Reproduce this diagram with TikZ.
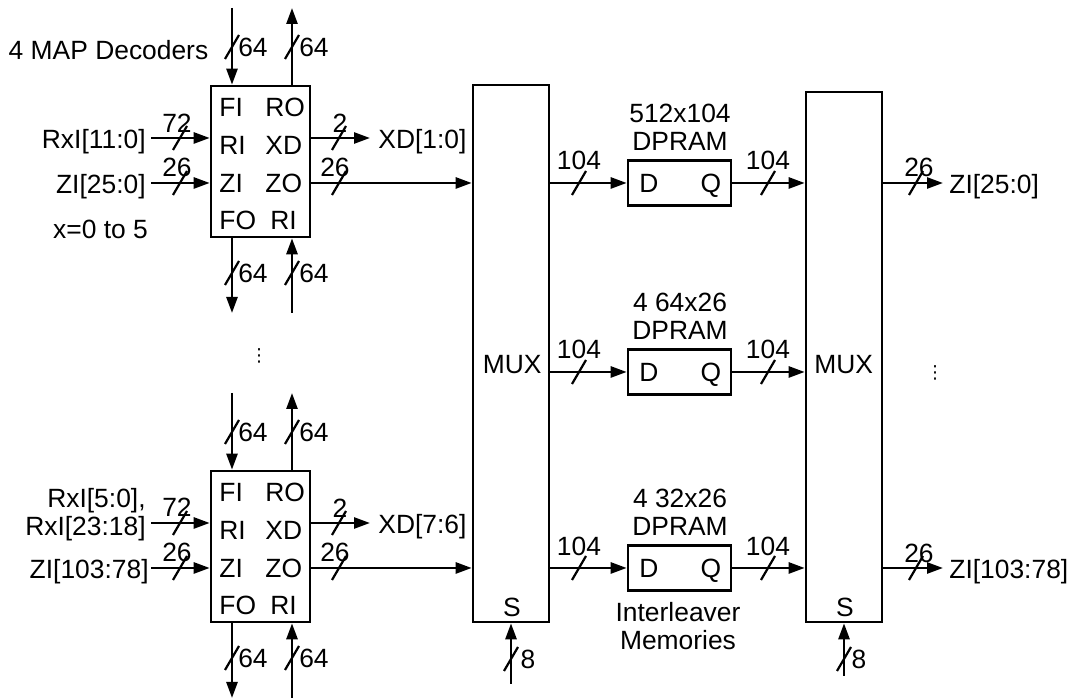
\documentclass[tikz,border=0pt]{standalone}
\usepackage{fontspec}
\setmainfont{Liberation Sans}
\newfontfamily\dotsfont{DejaVu Sans}
\usetikzlibrary{arrows.meta}

% bus width mark: slash at #1, label node #2 at #3 reading #4
\newcommand{\buswidth}[4]{%
  \draw[wire, line width=1.1pt] (#1) ++(-7,12) -- ++(14,-24);
  \node[lbl] (#2) at (#3) {#4};}

\begin{document}
\begin{tikzpicture}[x=0.5pt, y=-0.5pt,
    wire/.style={line width=1.3pt},
    arr/.style={wire, -{Triangle[length=8pt, width=5.5pt]}},
    blk/.style={draw, line width=1.3pt, inner sep=0pt},
    dec/.style={blk, minimum width=49.5pt, minimum height=75.5pt},
    mux/.style={blk, minimum width=38pt},
    ram/.style={blk, minimum width=51.5pt, minimum height=22.5pt},
    txt/.style={font=\fontsize{13.2}{14}\selectfont, inner sep=0pt},
    lbl/.style={txt, text height=9.45pt, text depth=0pt},
    pin/.style={lbl, anchor=west}
]
\path[fill=white, use as bounding box] (0,0) rectangle (1073,699);

% blocks
\node[dec] (dec1) at (260.5,161.5) {};
\node[dec] (dec2) at (260.5,546.5) {};
\node[mux, minimum height=268.5pt] (mux1) at (511,353.5) {};
\node[mux, minimum height=265pt] (mux2) at (844,357) {};
\node[ram] (ram1) at (679.5,183) {};
\node[ram] (ram2) at (679.5,372) {};
\node[ram] (ram3) at (679.5,568) {};

% decoder pins
\node[pin] (p1a) at (219,107) {FI};
\node[pin] (p1b) at (265,107) {RO};
\node[pin] (p1c) at (219,145) {RI};
\node[pin] (p1d) at (265,145) {XD};
\node[pin] (p1e) at (219,183) {ZI};
\node[pin] (p1f) at (265,183) {ZO};
\node[pin] (p1g) at (219,220) {FO};
\node[pin] (p1h) at (270,220) {RI};

\node[pin] (p2a) at (219,492) {FI};
\node[pin] (p2b) at (265,492) {RO};
\node[pin] (p2c) at (219,530) {RI};
\node[pin] (p2d) at (265,530) {XD};
\node[pin] (p2e) at (219,568) {ZI};
\node[pin] (p2f) at (265,568) {ZO};
\node[pin] (p2g) at (219,605) {FO};
\node[pin] (p2h) at (270,605) {RI};

\node[lbl] (title) at (108.5,50) {4 MAP Decoders};
\node[lbl] (range) at (100.5,229) {x=0 to 5};

% decoder 1 buses
\coordinate (d1fi) at (232,8);
\coordinate (d1ro) at (292,8);
\coordinate (d1fo) at (232,313);
\coordinate (d1ri) at (292,313);
\draw[arr] (d1fi) -- (d1fi |- dec1.north);
\draw[arr] (d1ro |- dec1.north) -- (d1ro);
\draw[arr] (d1fo |- dec1.south) -- (d1fo);
\draw[arr] (d1ri) -- (d1ri |- dec1.south);
\buswidth{232,47}{w1a}{253,47}{64}
\buswidth{292,47}{w1b}{314,47}{64}
\buswidth{232,273}{w1c}{253,273}{64}
\buswidth{292,273}{w1d}{314,273}{64}

\coordinate (x1in) at (151,138);
\coordinate (z1in) at (151,183);
\coordinate (xd1) at (370,138);
\node[lbl, anchor=east] (rxi1) at (146,139) {RxI[11:0]};
\node[lbl, anchor=east] (zi1) at (146,184) {ZI[25:0]};
\node[lbl, anchor=west] (xdo1) at (378,139) {XD[1:0]};
\draw[arr] (x1in) -- (x1in -| dec1.west);
\draw[arr] (z1in) -- (z1in -| dec1.west);
\draw[arr] (xd1 -| dec1.east) -- (xd1);
\draw[arr] (z1in -| dec1.east) -- (z1in -| mux1.west);
\buswidth{180,138}{w1e}{177,123}{72}
\buswidth{180,183}{w1f}{177,167}{26}
\buswidth{339,138}{w1g}{340,123}{2}
\buswidth{339,183}{w1h}{335,167}{26}

% decoder 2 buses
\coordinate (d2fi) at (232,393);
\coordinate (d2ro) at (292,393);
\coordinate (d2fo) at (232,698);
\coordinate (d2ri) at (292,698);
\draw[arr] (d2fi) -- (d2fi |- dec2.north);
\draw[arr] (d2ro |- dec2.north) -- (d2ro);
\draw[arr] (d2fo |- dec2.south) -- (d2fo);
\draw[arr] (d2ri) -- (d2ri |- dec2.south);
\buswidth{232,432}{w2a}{253,432}{64}
\buswidth{292,432}{w2b}{314,432}{64}
\buswidth{232,658}{w2c}{253,658}{64}
\buswidth{292,658}{w2d}{314,658}{64}

\coordinate (x2in) at (151,523);
\coordinate (z2in) at (151,568);
\coordinate (xd2) at (370,523);
\node[txt, anchor=east, align=right] (rxi2) at (146,515) {RxI[5:0],\\RxI[23:18]};
\node[lbl, anchor=east] (zi2) at (149,569) {ZI[103:78]};
\node[lbl, anchor=west] (xdo2) at (378,524) {XD[7:6]};
\draw[arr] (x2in) -- (x2in -| dec2.west);
\draw[arr] (z2in) -- (z2in -| dec2.west);
\draw[arr] (xd2 -| dec2.east) -- (xd2);
\draw[arr] (z2in -| dec2.east) -- (z2in -| mux1.west);
\buswidth{180,523}{w2e}{177,507}{72}
\buswidth{180,568}{w2f}{177,552}{26}
\buswidth{339,523}{w2g}{340,508}{2}
\buswidth{339,568}{w2h}{335,552}{26}

\node[txt] (more1) at (259,356) {\dotsfont\fontsize{9}{9}\selectfont ⋮};

% muxes
\node[lbl, anchor=east] (mux1l) at (542,364) {MUX};
\node[lbl, anchor=west] (mux2l) at (814,364) {MUX};
\node[lbl] (sel1) at (512,607) {S};
\node[lbl] (sel2) at (845,607) {S};

\coordinate (s1in) at (511,684);
\coordinate (s2in) at (844,676);
\draw[arr] (s1in) -- (s1in |- mux1.south);
\draw[arr] (s2in) -- (s2in |- mux2.south);
\buswidth{511,659}{w3a}{528,659}{8}
\buswidth{844,659}{w3b}{859,659}{8}

% interleaver memories
\node[txt, align=center] (ram1t) at (680,127) {512x104\\DPRAM};
\node[txt, align=center] (ram2t) at (680,316) {4 64x26\\DPRAM};
\node[txt, align=center] (ram3t) at (680,512) {4 32x26\\DPRAM};
\node[txt, align=center] (memt) at (678,626) {Interleaver\\Memories};

\node[lbl] (d1) at (649,183) {D};
\node[lbl] (q1) at (711,183) {Q};
\node[lbl] (d2) at (649,372) {D};
\node[lbl] (q2) at (711,372) {Q};
\node[lbl] (d3) at (649,568) {D};
\node[lbl] (q3) at (711,568) {Q};

\draw[arr] (mux1.east |- ram1) -- (ram1.west);
\draw[arr] (mux1.east |- ram2) -- (ram2.west);
\draw[arr] (mux1.east |- ram3) -- (ram3.west);
\draw[arr] (ram1.east) -- (mux2.west |- ram1);
\draw[arr] (ram2.east) -- (mux2.west |- ram2);
\draw[arr] (ram3.east) -- (mux2.west |- ram3);
\buswidth{579,183}{w4a}{579,160}{104}
\buswidth{579,372}{w4b}{579,349}{104}
\buswidth{579,568}{w4c}{579,546}{104}
\buswidth{768,183}{w4d}{768,160}{104}
\buswidth{768,372}{w4e}{768,349}{104}
\buswidth{768,568}{w4f}{768,546}{104}

% outputs
\coordinate (zo1) at (943,183);
\coordinate (zo2) at (943,568);
\draw[arr] (zo1 -| mux2.east) -- (zo1);
\draw[arr] (zo2 -| mux2.east) -- (zo2);
\node[lbl, anchor=west] (zout1) at (949,184) {ZI[25:0]};
\node[lbl, anchor=west] (zout2) at (949,569) {ZI[103:78]};
\buswidth{916,183}{w5a}{919,167}{26}
\buswidth{916,568}{w5b}{919,553}{26}

\node[txt] (more2) at (935,373) {\dotsfont\fontsize{9}{9}\selectfont ⋮};

\end{tikzpicture}
\end{document}
